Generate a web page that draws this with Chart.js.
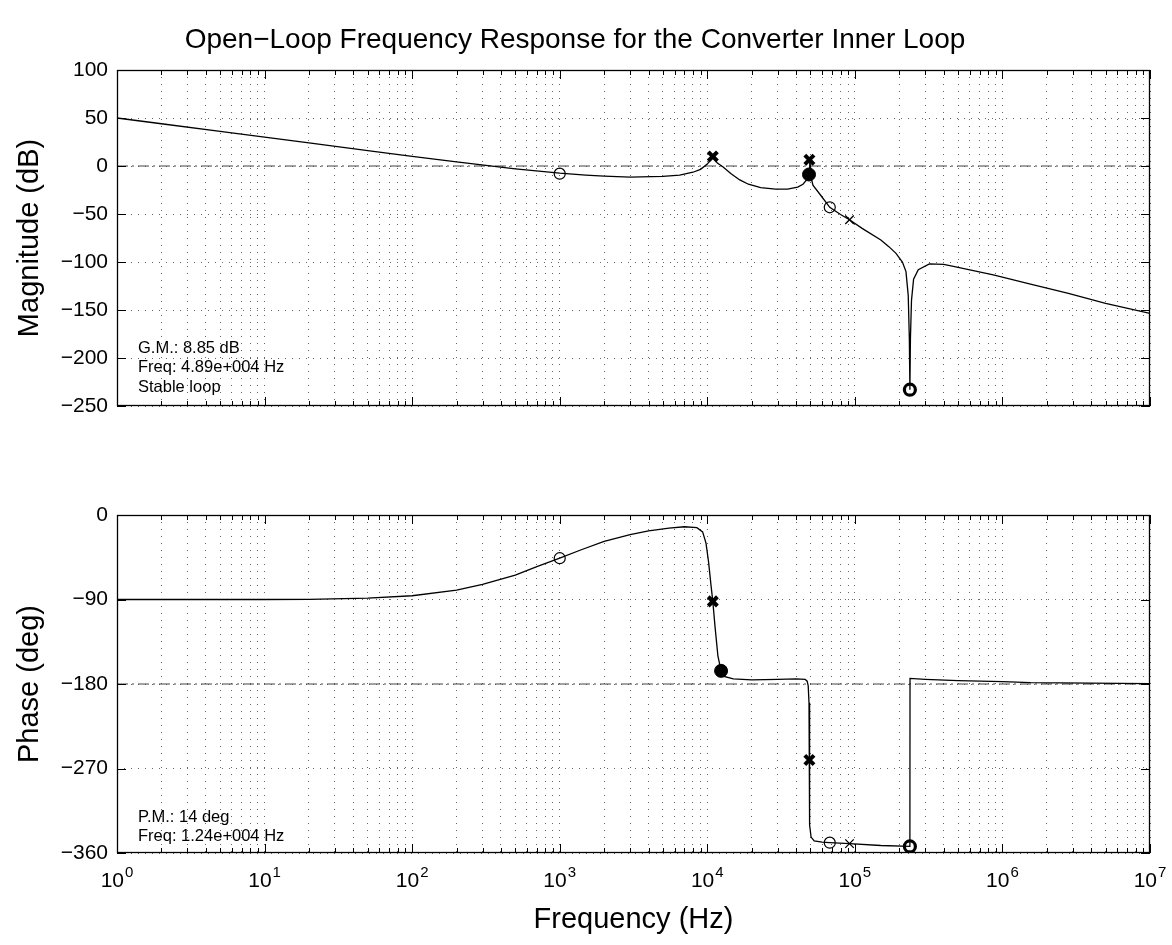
<!DOCTYPE html>
<html>
<head>
<meta charset="utf-8">
<script src="https://cdn.jsdelivr.net/npm/chart.js@4.4.1/dist/chart.umd.min.js"></script>
<style>
  html, body { margin: 0; padding: 0; background: #fff; }
  #wrap { position: relative; width: 1172px; height: 945px; background: #fff; }
  canvas { position: absolute; left: 0; }
  #cA { top: 0; }
  #cB { top: 460px; }
</style>
</head>
<body>
<div id="wrap">
  <canvas id="cA" width="1172" height="460"></canvas>
  <canvas id="cB" width="1172" height="485"></canvas>
</div>
<script>
// ---------------- data ----------------
const chartTitle = 'Open\u2212Loop Frequency Response for the Converter Inner Loop';
const magAxisTitle = 'Magnitude (dB)';
const phaseAxisTitle = 'Phase (deg)';
const freqAxisTitle = 'Frequency (Hz)';

const magTickLabels = ['100', '50', '0', '\u221250', '\u2212100', '\u2212150', '\u2212200', '\u2212250'];
const magTickValues = [100, 50, 0, -50, -100, -150, -200, -250];
const phaseTickLabels = ['0', '\u221290', '\u2212180', '\u2212270', '\u2212360'];
const phaseTickValues = [0, -90, -180, -270, -360];
const freqTickExponents = [0, 1, 2, 3, 4, 5, 6, 7];

const gmNotes = ['G.M.: 8.85 dB', 'Freq: 4.89e+004 Hz', 'Stable loop'];
const pmNotes = ['P.M.: 14 deg', 'Freq: 1.24e+004 Hz'];

const magFreq = [1, 2, 5, 10, 20, 50, 100, 200, 500, 1000, 1500, 2000, 3000, 5000, 6500, 8000, 9000, 10000, 10600, 10900, 11200, 11700, 12800, 14500, 16600, 19000, 23000, 29000, 35000, 41000, 44500, 46500, 48000, 48900, 49300, 49600, 50000, 50500, 52000, 59000, 67600, 80000, 92000, 112000, 150000, 170000, 190000, 210000, 222000, 230000, 234000, 236000, 238000, 242000, 250000, 269000, 320000, 400000, 483000, 867000, 1550000, 2800000, 5000000, 10000000];
const magDb   = [50, 44, 36, 30, 24, 16, 10, 4.2, -3, -7.5, -9.5, -10.5, -11.5, -10.8, -9.5, -6.5, -3.5, 2, 7, 10, 7, 3, -1, -8, -14.5, -19, -22.5, -24, -24, -22, -19, -15.5, -11, -8.85, 0, 6, 0, -12, -20, -31, -43, -50.5, -56, -65, -77, -84, -91, -100, -110, -135, -180, -233, -180, -140, -118, -108, -102, -102.5, -105, -113.5, -123, -132.6, -143, -153.5];

const phaseFreq = [1, 10, 20, 50, 100, 200, 300, 500, 700, 1000, 1400, 2000, 3000, 4000, 5500, 7000, 8500, 9300, 9800, 10200, 10600, 10900, 11300, 11800, 12400, 13000, 15000, 20000, 30000, 40000, 46000, 47500, 48300, 48900, 49200, 49500, 50500, 53000, 60000, 67600, 92000, 150000, 236000, 236500, 300000, 500000, 1000000, 1550000, 10000000];
const phaseDeg  = [-90, -90, -89.8, -88.5, -86, -80, -74, -64, -55, -46, -37, -28, -21, -17, -14, -12.5, -13.5, -18, -30, -50, -75, -92, -120, -150, -166, -172, -174.5, -175.5, -175, -174.5, -175, -177, -182, -200, -261, -330, -343, -347, -348.5, -349, -350, -352, -353, -174, -175, -176.5, -177.5, -178.5, -179.5];

// markers
const openCircleFreq = [1000, 67600];
const openCircleMag = [-8, -43];
const openCirclePhase = [-46, -349];
const boldCrossFreq = [10900, 49200];
const boldCrossMag = [10, 6.5];
const boldCrossPhase = [-92, -261];
const thinCrossFreq = [92000];
const thinCrossMag = [-56];
const thinCrossPhase = [-350];
const boldRingFreq = [236000];
const boldRingMag = [-233];
const boldRingPhase = [-353];
const gmDotFreq = [48900];
const gmDotMag = [-8.85];
const pmDotFreq = [12400];
const pmDotPhase = [-166];

// ---------------- helpers ----------------
const FONT = '"Liberation Sans", Arial, Helvetica, sans-serif';
const xGridValues = [];
for (let e = 0; e < 7; e++) for (let m = 1; m <= 9; m++) xGridValues.push(m * Math.pow(10, e));
xGridValues.push(1e7);
const isPow10 = v => Math.abs(Math.log10(v) - Math.round(Math.log10(v))) < 1e-9;
const pts = (xs, ys) => xs.map((x, i) => ({x, y: ys[i]}));

function markerSets(openY, boldX, thinX, ring, dotF, dotY) {
  return [
    {data: pts(openCircleFreq, openY), showLine: false, pointStyle: 'circle', pointRadius: 5.5, borderColor: '#000', backgroundColor: 'rgba(0,0,0,0)', pointBorderWidth: 1.2},
    {data: pts(boldCrossFreq, boldX), showLine: false, pointStyle: 'crossRot', pointRadius: 6.5, borderColor: '#000', pointBorderWidth: 4},
    {data: pts(thinCrossFreq, thinX), showLine: false, pointStyle: 'crossRot', pointRadius: 6, borderColor: '#000', pointBorderWidth: 1.3},
    {data: pts(boldRingFreq, ring), showLine: false, pointStyle: 'circle', pointRadius: 5.5, borderColor: '#000', backgroundColor: 'rgba(0,0,0,0)', pointBorderWidth: 3.2},
    {data: pts(dotF, dotY), showLine: false, pointStyle: 'circle', pointRadius: 6.5, borderColor: '#000', backgroundColor: '#000', pointBorderWidth: 1}
  ];
}

const framePlugin = {
  id: 'frame',
  afterDraw(chart, args, opts) {
    const {ctx, chartArea: a, scales} = chart;
    ctx.save();
    ctx.strokeStyle = '#000';
    ctx.lineWidth = 1;
    ctx.beginPath();
    xGridValues.forEach(v => {
      const px = Math.round(scales.x.getPixelForValue(v)) + 0.5;
      const L = isPow10(v) ? 9 : 5;
      ctx.moveTo(px, a.bottom); ctx.lineTo(px, a.bottom - L);
      ctx.moveTo(px, a.top); ctx.lineTo(px, a.top + L);
    });
    opts.yTicks.forEach(v => {
      const py = Math.round(scales.y.getPixelForValue(v)) + 0.5;
      ctx.moveTo(a.left, py); ctx.lineTo(a.left + 9, py);
      ctx.moveTo(a.right, py); ctx.lineTo(a.right - 9, py);
    });
    ctx.stroke();
    ctx.lineWidth = 1.3;
    ctx.strokeRect(Math.round(a.left) + 0.5, Math.round(a.top) + 0.5, Math.round(a.right - a.left) - 1, Math.round(a.bottom - a.top) - 1);
    // notes
    ctx.fillStyle = '#000';
    ctx.font = '16.5px ' + FONT;
    ctx.textBaseline = 'middle';
    ctx.textAlign = 'left';
    opts.notes.forEach((s, i) => ctx.fillText(s, 138, opts.noteY + i * 19.5));
    // frequency tick labels
    if (opts.xLabels) {
      freqTickExponents.forEach(e => {
        const px = scales.x.getPixelForValue(Math.pow(10, e));
        ctx.font = '21px ' + FONT;
        const wb = ctx.measureText('10').width;
        ctx.font = '15px ' + FONT;
        const we = ctx.measureText(String(e)).width;
        const x0 = px - (wb + we + 1) / 2;
        ctx.textBaseline = 'alphabetic';
        ctx.font = '21px ' + FONT;
        ctx.fillText('10', x0, opts.xLabelBase);
        ctx.font = '15px ' + FONT;
        ctx.fillText(String(e), x0 + wb + 1, opts.xLabelBase - 10);
      });
    }
    ctx.restore();
  }
};

function makeChart(id, cfg) {
  const datasets = [
    {data: [{x: 1, y: cfg.refY}, {x: 1e7, y: cfg.refY}], borderColor: '#444', borderWidth: 1, borderDash: [11, 4, 2, 4], pointRadius: 0, order: 5},
    {data: cfg.curve, borderColor: '#000', borderWidth: 1.3, pointRadius: 0, tension: 0, order: 1}
  ].concat(cfg.markers.map(m => Object.assign({order: 0}, m)));
  return new Chart(document.getElementById(id), {
    type: 'line',
    data: {datasets},
    plugins: [framePlugin],
    options: {
      responsive: false,
      animation: false,
      devicePixelRatio: 1,
      layout: {autoPadding: false, padding: cfg.padding},
      plugins: {
        legend: {display: false},
        tooltip: {enabled: false},
        title: cfg.title ? {display: true, text: cfg.title, color: '#000', font: {family: FONT, size: 28, weight: 'normal'}, padding: {top: 23, bottom: 13.4}} : {display: false},
        frame: {notes: cfg.notes, noteY: cfg.noteY, yTicks: cfg.yTicks, xLabels: cfg.xLabels, xLabelBase: cfg.xLabelBase}
      },
      scales: {
        x: {
          type: 'logarithmic', min: 1, max: 1e7,
          afterBuildTicks: s => { s.ticks = xGridValues.map(v => ({value: v})); },
          afterFit: s => { s.height = cfg.xHeight; },
          ticks: {display: false, autoSkip: false},
          grid: {color: '#666', lineWidth: 1, drawTicks: false},
          border: {display: false, dash: [1, 6]},
          title: cfg.xTitle ? {display: true, text: cfg.xTitle, color: '#000', font: {family: FONT, size: 29}, padding: {top: 0, bottom: 8}} : {display: false}
        },
        y: {
          type: 'linear', min: cfg.yMin, max: cfg.yMax,
          afterBuildTicks: s => { s.ticks = cfg.yTicks.map(v => ({value: v})); },
          afterFit: s => { s.width = 117; },
          ticks: {color: '#000', padding: 9, font: {family: FONT, size: 21},
                  callback: (v) => cfg.yLabels[cfg.yTicks.indexOf(v)]},
          grid: {color: '#666', lineWidth: 1, drawTicks: false},
          border: {display: false, dash: [1, 6]},
          title: {display: true, text: cfg.yTitle, color: '#000', font: {family: FONT, size: 29}, padding: {top: 13, bottom: 0}}
        }
      }
    }
  });
}

makeChart('cA', {
  title: chartTitle,
  padding: {left: 0, right: 22, top: 0, bottom: 0},
  xHeight: 54,
  curve: pts(magFreq, magDb),
  refY: 0,
  markers: markerSets(openCircleMag, boldCrossMag, thinCrossMag, boldRingMag, gmDotFreq, gmDotMag),
  yMin: -250, yMax: 100, yTicks: magTickValues, yLabels: magTickLabels, yTitle: magAxisTitle,
  notes: gmNotes, noteY: 348, xLabels: false
});

makeChart('cB', {
  title: null,
  padding: {left: 0, right: 22, top: 55, bottom: 0},
  xHeight: 92,
  curve: pts(phaseFreq, phaseDeg),
  refY: -180,
  markers: markerSets(openCirclePhase, boldCrossPhase, thinCrossPhase, boldRingPhase, pmDotFreq, pmDotPhase),
  yMin: -360, yMax: 0, yTicks: phaseTickValues, yLabels: phaseTickLabels, yTitle: phaseAxisTitle,
  xTitle: freqAxisTitle,
  notes: pmNotes, noteY: 357, xLabels: true, xLabelBase: 427
});
</script>
</body>
</html>
